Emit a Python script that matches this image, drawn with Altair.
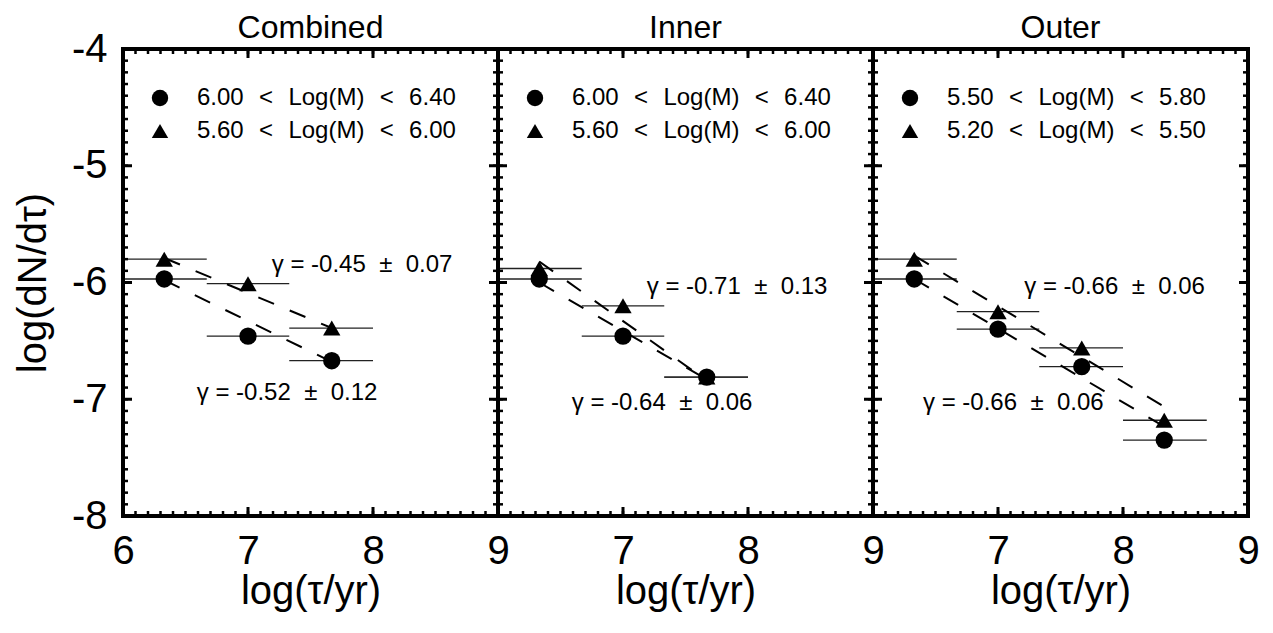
import altair as alt
import pandas as pd

FONT = "Liberation Sans"

# ---------------- data ----------------
panel_titles = ["Combined", "Inner", "Outer"]

# age bins, log(tau/yr)
x_mid_3 = [6.33, 7.00, 7.67]
x_lo_3 = [6.00, 6.67, 7.33]
x_hi_3 = [6.67, 7.33, 8.00]
x_mid_4 = [6.33, 7.00, 7.67, 8.33]
x_lo_4 = [6.00, 6.67, 7.33, 8.00]
x_hi_4 = [6.67, 7.33, 8.00, 8.67]

# log(dN/dtau)
combined_circle = [-5.97, -6.46, -6.67]
combined_triangle = [-5.80, -6.01, -6.39]
inner_circle = [-5.97, -6.46, -6.81]
inner_triangle = [-5.88, -6.20, -6.81]
outer_circle = [-5.97, -6.40, -6.72, -7.35]
outer_triangle = [-5.80, -6.25, -6.56, -7.18]

SP = "\u00a0\u00a0\u200a"
# legend labels
combined_labels = [f"6.00{SP}<{SP}Log(M){SP}<{SP}6.40", f"5.60{SP}<{SP}Log(M){SP}<{SP}6.00"]
inner_labels = [f"6.00{SP}<{SP}Log(M){SP}<{SP}6.40", f"5.60{SP}<{SP}Log(M){SP}<{SP}6.00"]
outer_labels = [f"5.50{SP}<{SP}Log(M){SP}<{SP}5.80", f"5.20{SP}<{SP}Log(M){SP}<{SP}5.50"]

# power-law fits (start x, start y, end x, end y): circle fit, triangle fit
combined_fits = [(6.33, -5.98, 7.67, -6.68), (6.33, -5.79, 7.67, -6.39)]
inner_fits = [(6.33, -6.00, 7.67, -6.83), (6.33, -5.82, 7.67, -6.84)]
outer_fits = [(6.33, -5.97, 8.37, -7.26), (6.33, -5.77, 8.37, -7.09)]

# slope annotations (text, x, y)
combined_gamma = [("γ = -0.45\u00a0\u00a0±\u00a0\u00a00.07", 7.19, -5.91),
                  ("γ = -0.52\u00a0\u00a0±\u00a0\u00a00.12", 6.59, -7.01)]
inner_gamma = [("γ = -0.71\u00a0\u00a0±\u00a0\u00a00.13", 7.19, -6.10),
               ("γ = -0.64\u00a0\u00a0±\u00a0\u00a00.06", 6.59, -7.09)]
outer_gamma = [("γ = -0.66\u00a0\u00a0±\u00a0\u00a00.06", 7.21, -6.10),
               ("γ = -0.66\u00a0\u00a0±\u00a0\u00a00.06", 6.40, -7.09)]

x_major = [6, 7, 8, 9]
y_major = [-8, -7, -6, -5, -4]
x_minor = [6 + i / 10 for i in range(31)]
y_minor = [-8 + i / 10 for i in range(41)]

# ---------------- layout ----------------
W, H = 375, 467

xscale = alt.Scale(domain=[6, 9], nice=False, zero=False)
yscale = alt.Scale(domain=[-8, -4], nice=False, zero=False)


def make_panel(title, xm, xl, xh, circ, tri, labels, fits, gammas, xvals, show_y):
    rows = []
    for i in range(len(xm)):
        rows.append({"x": xm[i], "lo": xl[i], "hi": xh[i], "y": circ[i], "series": labels[0]})
    for i in range(len(xm)):
        rows.append({"x": xm[i], "lo": xl[i], "hi": xh[i], "y": tri[i], "series": labels[1]})
    df = pd.DataFrame(rows)
    fit_df = pd.DataFrame([{"x": f[0], "y": f[1], "x2": f[2], "y2": f[3]} for f in fits])
    txt_df = pd.DataFrame([{"t": g[0], "x": g[1], "y": g[2]} for g in gammas])

    xaxis = alt.Axis(values=xvals, title="log(τ/yr)", labelFontSize=40, titleFontSize=40,
                     labelFont=FONT, titleFont=FONT, titleFontWeight="normal",
                     ticks=False, domain=False, grid=False, labelPadding=15, titlePadding=0,
                     labelFlush=False, labelOverlap=False, labelExpr="'' + datum.value",
                     labelColor="black", titleColor="black")
    if show_y:
        yaxis = alt.Axis(values=y_major, title="log(dN/dτ)", labelFontSize=40, titleFontSize=40,
                         labelFont=FONT, titleFont=FONT, titleFontWeight="normal",
                         ticks=False, domain=False, grid=False, labelPadding=16, titlePadding=18,
                         labelFlush=False, labelOverlap=False, labelExpr="'' + datum.value",
                         labelColor="black", titleColor="black")
    else:
        yaxis = None

    X = lambda f: alt.X(f, type="quantitative", scale=xscale, axis=xaxis)
    Y = lambda f: alt.Y(f, type="quantitative", scale=yscale, axis=yaxis)

    base = alt.Chart(df)
    bars = base.mark_rule(color="#222222", strokeWidth=1.3).encode(
        x=X("lo"), x2="hi", y=Y("y"))
    fitl = alt.Chart(fit_df).mark_rule(color="black", strokeWidth=2, strokeDash=[17, 17]).encode(
        x=X("x"), x2="x2", y=Y("y"), y2="y2")
    pts = base.mark_point(filled=True, color="black", opacity=1, size=300).encode(
        x=X("x"), y=Y("y"),
        shape=alt.Shape("series:N",
                        scale=alt.Scale(domain=labels, range=["circle", "triangle-up"]),
                        legend=alt.Legend(title=None, orient="none", legendX=25, legendY=37,
                                          labelFontSize=24, labelFont=FONT, labelColor="black",
                                          symbolSize=270, symbolFillColor="black",
                                          symbolStrokeColor="black", symbolStrokeWidth=0,
                                          labelOffset=25, rowPadding=9, padding=0,
                                          labelLimit=0, symbolOpacity=1)))
    txt = alt.Chart(txt_df).mark_text(align="left", baseline="alphabetic", fontSize=24,
                                      font=FONT, color="black").encode(
        x=X("x"), y=Y("y"), text="t:N")

    ttl = alt.Chart(pd.DataFrame({"t": [title]})).mark_text(
        align="center", baseline="alphabetic", fontSize=32, font=FONT, color="black").encode(
        text="t:N", x=alt.value(W / 2), y=alt.value(-11))

    frame = alt.Chart(pd.DataFrame({"f": [0]})).mark_rect(
        filled=False, stroke="black", strokeWidth=4, fillOpacity=0).encode(
        x=alt.value(0), x2=alt.value(W), y=alt.value(0), y2=alt.value(H))

    xmaj = pd.DataFrame({"x": x_major})
    xmin = pd.DataFrame({"x": x_minor})
    ymaj = pd.DataFrame({"y": y_major})
    ymin = pd.DataFrame({"y": y_minor})

    ticks = []
    for d, inner, sw in [(xmaj, 9, 3), (xmin, 5, 2.5)]:
        ticks.append(alt.Chart(d).mark_rule(color="black", strokeWidth=sw).encode(
            x=X("x"), y=alt.value(H), y2=alt.value(H - inner)))
        ticks.append(alt.Chart(d).mark_rule(color="black", strokeWidth=sw).encode(
            x=X("x"), y=alt.value(0), y2=alt.value(inner)))
    for d, inner, sw in [(ymaj, 9, 3), (ymin, 5, 2.5)]:
        ticks.append(alt.Chart(d).mark_rule(color="black", strokeWidth=sw).encode(
            y=Y("y"), x=alt.value(0), x2=alt.value(inner)))
        ticks.append(alt.Chart(d).mark_rule(color="black", strokeWidth=sw).encode(
            y=Y("y"), x=alt.value(W), x2=alt.value(W - inner)))

    layer = alt.layer(bars, fitl, pts, txt, *ticks, frame, ttl).properties(width=W, height=H)
    return layer


p1 = make_panel(panel_titles[0], x_mid_3, x_lo_3, x_hi_3, combined_circle, combined_triangle,
                combined_labels, combined_fits, combined_gamma, [6, 7, 8, 9], True)
p2 = make_panel(panel_titles[1], x_mid_3, x_lo_3, x_hi_3, inner_circle, inner_triangle,
                inner_labels, inner_fits, inner_gamma, [7, 8, 9], False)
p3 = make_panel(panel_titles[2], x_mid_4, x_lo_4, x_hi_4, outer_circle, outer_triangle,
                outer_labels, outer_fits, outer_gamma, [7, 8, 9], False)

chart = alt.hconcat(p1, p2, p3, spacing=0, bounds="flush").resolve_scale(
    shape="independent", x="independent", y="independent"
).properties(
    padding={"left": 4, "top": 3, "right": 0, "bottom": 5}
).configure_view(
    strokeWidth=0
).configure(font=FONT)

chart.save("out.html", embed_options={"renderer": "svg", "actions": False})
